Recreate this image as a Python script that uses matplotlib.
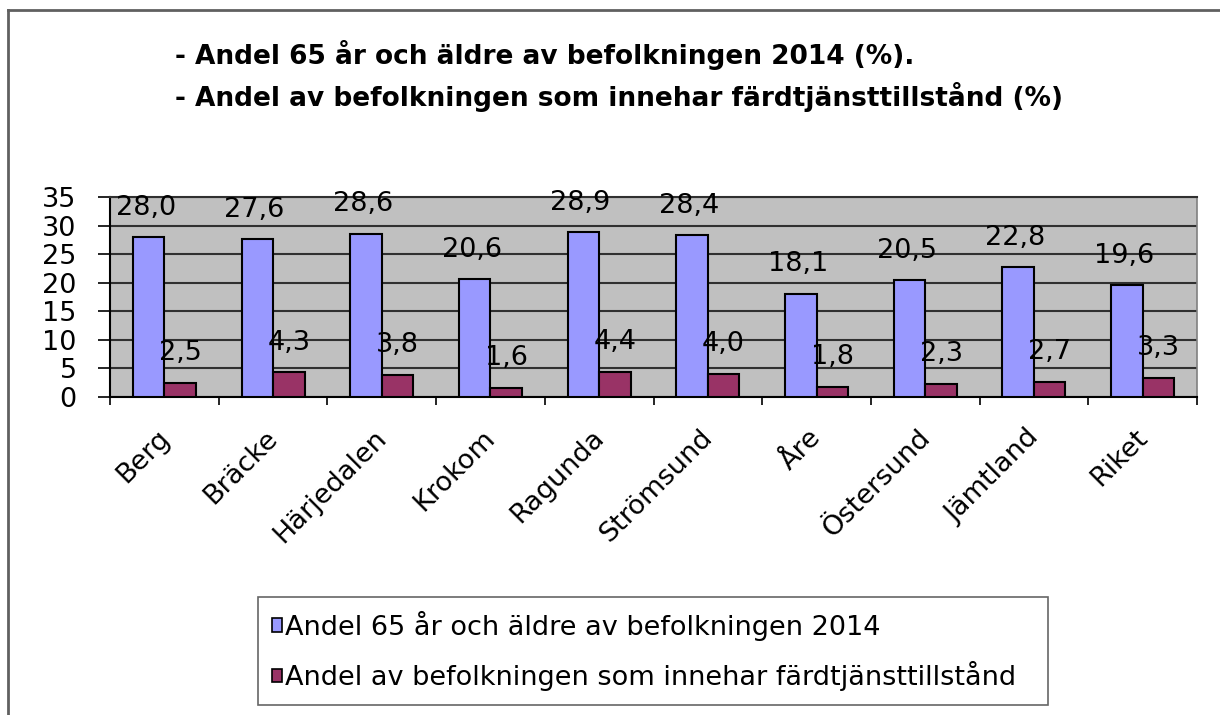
import matplotlib
matplotlib.use("Agg")
import matplotlib.pyplot as plt
from matplotlib.patches import Patch
from matplotlib.lines import Line2D
import matplotlib.transforms as mtransforms
import numpy as np

categories = ["Berg", "Bräcke", "Härjedalen", "Krokom", "Ragunda",
              "Strömsund", "Åre", "Östersund", "Jämtland", "Riket"]
andel_65 = [28.0, 27.6, 28.6, 20.6, 28.9, 28.4, 18.1, 20.5, 22.8, 19.6]
andel_fardtjanst = [2.5, 4.3, 3.8, 1.6, 4.4, 4.0, 1.8, 2.3, 2.7, 3.3]
series_names = ["Andel 65 år och äldre av befolkningen 2014",
                "Andel av befolkningen som innehar färdtjänsttillstånd"]
title_lines = ["- Andel 65 år och äldre av befolkningen 2014 (%).",
               "- Andel av befolkningen som innehar färdtjänsttillstånd (%)"]
yticks = [0, 5, 10, 15, 20, 25, 30, 35]

plt.rcParams['font.family'] = ['DejaVu Sans']
FS = 19.5

W, H = 1220, 715
fig = plt.figure(figsize=(W / 100, H / 100), dpi=100)
fig.patch.set_facecolor('white')

# frame lines (top and left)
fig.add_artist(Line2D([8 / W, 1], [1 - 10 / H, 1 - 10 / H], transform=fig.transFigure,
                      color='#606060', lw=2))
fig.add_artist(Line2D([8 / W, 8 / W], [0, 1 - 10 / H], transform=fig.transFigure,
                      color='#606060', lw=2))

# title
fig.text(175 / W, 1 - 55 / H, title_lines[0], fontsize=19, fontweight='bold',
         ha='left', va='center')
fig.text(175 / W, 1 - 97 / H, title_lines[1], fontsize=19, fontweight='bold',
         ha='left', va='center')

ax = fig.add_axes([110 / W, 1 - 397 / H, (1197 - 110) / W, (397 - 197) / H])
ax.set_facecolor('#C0C0C0')

x = np.arange(len(categories))
bw = 0.29
blue = '#9999FF'
purple = '#993366'
ax.bar(x - bw / 2, andel_65, bw, color=blue, edgecolor='black', linewidth=1.5, zorder=3)
ax.bar(x + bw / 2, andel_fardtjanst, bw, color=purple, edgecolor='black', linewidth=1.5, zorder=3)

for xi, v in zip(x, andel_65):
    ax.annotate(f"{v:.1f}".replace('.', ','), (xi - bw / 2, v), xytext=(-2, 21),
                textcoords='offset points', ha='center', va='center', fontsize=FS, zorder=4)
for xi, v in zip(x, andel_fardtjanst):
    ax.annotate(f"{v:.1f}".replace('.', ','), (xi + bw / 2, v), xytext=(0, 21.5),
                textcoords='offset points', ha='center', va='center', fontsize=FS, zorder=4)

ax.set_xlim(-0.5, len(categories) - 0.5)
ax.set_ylim(0, 35)
ax.set_yticks(yticks)
ax.set_yticklabels([str(t) for t in yticks], fontsize=FS)
ax.yaxis.grid(True, color='#303030', linewidth=1.5, zorder=1)
ax.set_axisbelow(True)
ax.tick_params(axis='y', length=9, width=1.2, pad=15, direction='out')

ax.set_xticks(x)
ax.set_xticklabels(categories, fontsize=FS, rotation=45, ha='right', va='top',
                   rotation_mode='anchor')
ax.set_xticks(np.arange(len(categories) + 1) - 0.5, minor=True)
ax.tick_params(axis='x', which='major', length=0, pad=20)
ax.tick_params(axis='x', which='minor', length=6, width=1.2, direction='out')
offset = mtransforms.ScaledTranslation(-8 / 100, 0, fig.dpi_scale_trans)
for lbl in ax.get_xticklabels():
    lbl.set_transform(lbl.get_transform() + offset)

for s in ['left', 'bottom']:
    ax.spines[s].set_color('black')
    ax.spines[s].set_linewidth(1.5)
ax.spines['top'].set_color('#303030')
ax.spines['top'].set_linewidth(1.5)
ax.spines['right'].set_color('#808080')
ax.spines['right'].set_linewidth(1.2)

handles = [Patch(facecolor=blue, edgecolor='black', linewidth=1.2),
           Patch(facecolor=purple, edgecolor='black', linewidth=1.2)]
leg = fig.legend(handles, series_names, loc='center',
                 bbox_to_anchor=(258 / W, 1 - 705 / H, (1048 - 258) / W, (705 - 597) / H),
                 mode='expand', fontsize=FS, frameon=True, fancybox=False,
                 handlelength=0.4, handleheight=0.4, handletextpad=0.1,
                 labelspacing=0.75, borderpad=0.5, borderaxespad=0)
leg.get_frame().set_edgecolor('#404040')
leg.get_frame().set_linewidth(1.2)

fig.savefig('out.png', dpi=100, facecolor='white')
